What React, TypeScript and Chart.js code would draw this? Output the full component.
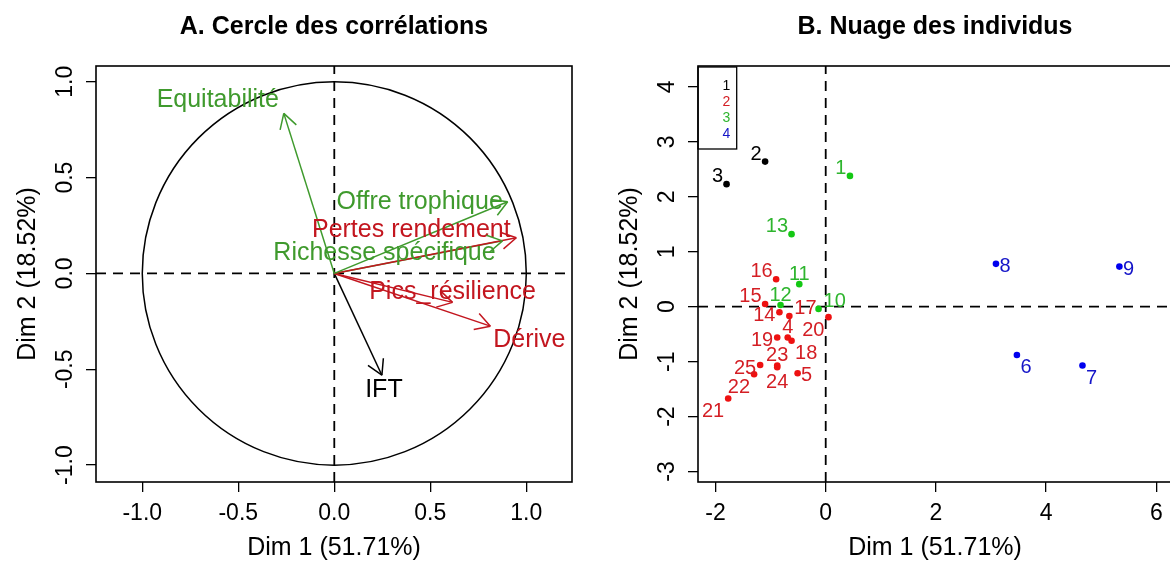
import React, { useEffect, useRef } from 'react';
import { Chart, registerables } from 'chart.js';
Chart.register(...registerables);

const FONT = "'Liberation Sans', Arial, Helvetica, sans-serif";

// ---------- Panel A : correlation circle ----------
const TITLE_A = 'A. Cercle des corrélations';
const VAR_NAMES = ['Equitabilité', 'Offre trophique', 'Pertes rendement', 'Richesse spécifique', 'Pics_résilience', 'Dérive', 'IFT'];
const VAR_DIM1 = [-0.263, 0.903, 0.948, 0.876, 0.616, 0.813, 0.248];
const VAR_DIM2 = [0.835, 0.374, 0.186, 0.170, -0.151, -0.275, -0.531];
const A_X_TICKS = [-1, -0.5, 0, 0.5, 1];
const A_Y_TICKS = [-1, -0.5, 0, 0.5, 1];

// ---------- Panel B : individuals ----------
const TITLE_B = 'B. Nuage des individus';
const IND_NAMES = ['1', '2', '3', '4', '5', '6', '7', '8', '9', '10', '11', '12', '13', '14', '15', '16', '17', '18', '19', '20', '21', '22', '23', '24', '25'];
const IND_DIM1 = [0.44, -1.10, -1.80, -0.69, -0.51, 3.47, 4.66, 3.09, 5.33, -0.13, -0.48, -0.82, -0.62, -0.84, -1.10, -0.90, -0.66, -0.62, -0.88, 0.05, -1.77, -1.30, -0.88, -0.88, -1.19];
const IND_DIM2 = [2.38, 2.64, 2.23, -0.56, -1.21, -0.88, -1.07, 0.78, 0.73, -0.04, 0.41, 0.03, 1.32, -0.10, 0.05, 0.50, -0.17, -0.62, -0.56, -0.19, -1.67, -1.23, -1.07, -1.10, -1.06];
const IND_CLUSTER = [3, 1, 1, 2, 2, 4, 4, 4, 4, 3, 3, 3, 3, 2, 2, 2, 2, 2, 2, 2, 2, 2, 2, 2, 2];
const CLUSTER_NAMES = ['1', '2', '3', '4'];
const B_X_TICKS = [-2, 0, 2, 4, 6];
const B_Y_TICKS = [-3, -2, -1, 0, 1, 2, 3, 4];

const AXIS_X_TITLE = 'Dim 1 (51.71%)';
const AXIS_Y_TITLE = 'Dim 2 (18.52%)';

// ---------- styles ----------
const GREEN_A = '#3f9a2d';
const RED_A = '#c3161f';
const VAR_COLORS = [GREEN_A, GREEN_A, RED_A, GREEN_A, RED_A, RED_A, '#000000'];
const VAR_LABEL_OFFSETS = [[-66, -15], [-88, -2], [-105, -10], [-118, 10], [0, -12], [39, 12], [2, 12.5]];
const CLUSTER_POINT_COLORS = ['#000000', '#ee1111', '#14c814', '#0000ee'];
const CLUSTER_TEXT_COLORS = ['#000000', '#d41e24', '#2eb52e', '#1414c8'];
const IND_LABEL_POS = ['ul', 'ul', 'ul', 'u', 'r', 'lr', 'lr', 'r', 'r', 'ur', 'u', 'u', 'ul', 'l', 'ul', 'ul', 'ur', 'lr', 'l', 'll', 'll', 'll', 'u', 'd', 'l'];

function scaleOpts(axis: 'x' | 'y', min: number, max: number, tickVals: number[], fmt: (v: number) => string, fitSize: number, titlePad: number) {
  return {
    type: 'linear',
    position: axis === 'x' ? 'bottom' : 'left',
    min,
    max,
    afterBuildTicks: (s: any) => { s.ticks = tickVals.map((v) => ({ value: v })); },
    afterFit: (s: any) => { if (axis === 'x') s.height = fitSize; else s.width = fitSize; },
    grid: { display: true, drawOnChartArea: false, drawTicks: true, tickLength: 10, color: '#000', lineWidth: 1.3 },
    border: { display: false },
    ticks: {
      display: axis === 'x',
      color: '#000',
      font: { family: FONT, size: 23 },
      padding: 8,
      maxRotation: 0,
      minRotation: 0,
      autoSkip: false,
      callback: (v: any) => fmt(Number(v)),
    },
    title: {
      display: true,
      text: axis === 'x' ? AXIS_X_TITLE : AXIS_Y_TITLE,
      color: '#000',
      font: { family: FONT, size: 25, lineHeight: 1.2 },
      padding: axis === 'x' ? { top: 0, bottom: 0 } : { top: titlePad, bottom: 0 },
    },
  };
}

function drawFrame(chart: any) {
  const { ctx, chartArea: a } = chart;
  ctx.save();
  ctx.strokeStyle = '#000';
  ctx.lineWidth = 1.6;
  ctx.strokeRect(a.left, a.top, a.right - a.left, a.bottom - a.top);
  ctx.restore();
}

function drawYTickLabels(chart: any) {
  const { ctx, chartArea: a } = chart;
  const ys = chart.scales.y;
  ctx.save();
  ctx.font = `23px ${FONT}`;
  ctx.fillStyle = '#000';
  ctx.textAlign = 'center';
  ctx.textBaseline = 'middle';
  ys.ticks.forEach((t: any) => {
    const py = ys.getPixelForValue(t.value);
    ctx.save();
    ctx.translate(a.left - 30, py);
    ctx.rotate(-Math.PI / 2);
    ctx.fillText(String(t.label), 0, 0);
    ctx.restore();
  });
  ctx.restore();
}

function drawZeroLines(chart: any) {
  const { ctx, chartArea: a } = chart;
  const x0 = chart.scales.x.getPixelForValue(0);
  const y0 = chart.scales.y.getPixelForValue(0);
  ctx.save();
  ctx.strokeStyle = '#000';
  ctx.lineWidth = 1.8;
  ctx.setLineDash([10, 7]);
  ctx.beginPath();
  ctx.moveTo(a.left, y0);
  ctx.lineTo(a.right, y0);
  ctx.moveTo(x0, a.bottom);
  ctx.lineTo(x0, a.top);
  ctx.stroke();
  ctx.restore();
}

const circlePlugin = {
  id: 'circleA',
  beforeDatasetsDraw(chart: any) {
    const { ctx } = chart;
    const xs = chart.scales.x;
    const ys = chart.scales.y;
    const cx = xs.getPixelForValue(0);
    const cy = ys.getPixelForValue(0);
    const rx = xs.getPixelForValue(1) - cx;
    const ry = cy - ys.getPixelForValue(1);
    ctx.save();
    ctx.strokeStyle = '#000';
    ctx.lineWidth = 1.5;
    ctx.beginPath();
    ctx.ellipse(cx, cy, rx, ry, 0, 0, Math.PI * 2);
    ctx.stroke();
    ctx.restore();
    drawZeroLines(chart);
  },
  afterDatasetsDraw(chart: any) {
    const { ctx } = chart;
    ctx.save();
    chart.data.datasets.forEach((ds: any, i: number) => {
      const meta = chart.getDatasetMeta(i);
      const o = meta.data[0];
      const t = meta.data[1];
      const ang = Math.atan2(t.y - o.y, t.x - o.x);
      const L = 17;
      ctx.strokeStyle = VAR_COLORS[i];
      ctx.lineWidth = 1.5;
      ctx.beginPath();
      [-1, 1].forEach((s) => {
        const aa = ang + Math.PI + (s * Math.PI) / 6;
        ctx.moveTo(t.x, t.y);
        ctx.lineTo(t.x + L * Math.cos(aa), t.y + L * Math.sin(aa));
      });
      ctx.stroke();
      const fs = 25;
      ctx.font = `${fs}px ${FONT}`;
      ctx.fillStyle = VAR_COLORS[i];
      ctx.textAlign = 'center';
      ctx.textBaseline = 'alphabetic';
      const [dx, dy] = VAR_LABEL_OFFSETS[i];
      ctx.fillText(VAR_NAMES[i], t.x + dx, t.y + dy + 0.358 * fs);
    });
    ctx.restore();
    drawFrame(chart);
  },
  afterDraw(chart: any) {
    drawYTickLabels(chart);
  },
};

function placeLabel(ctx: CanvasRenderingContext2D, text: string, px: number, py: number, pos: string, fs: number) {
  const h = 0.716 * fs;
  let align: CanvasTextAlign = 'center';
  let x = px;
  let cy = py;
  switch (pos) {
    case 'ul': align = 'right'; x = px - 3.5; cy = py - 2 - h / 2; break;
    case 'u': x = px; cy = py - 4 - h / 2; break;
    case 'ur': align = 'left'; x = px + 5; cy = py - 2 - h / 2; break;
    case 'r': align = 'left'; x = px + 3.5; cy = py + 1; break;
    case 'l': align = 'right'; x = px - 4; cy = py + 1.5; break;
    case 'lr': align = 'left'; x = px + 3.5; cy = py + 4 + h / 2; break;
    case 'll': align = 'right'; x = px - 4; cy = py + 4.5 + h / 2; break;
    case 'd': x = px; cy = py + 7 + h / 2; break;
  }
  ctx.textAlign = align;
  ctx.textBaseline = 'alphabetic';
  ctx.fillText(text, x, cy + h / 2);
}

const indPlugin = {
  id: 'indB',
  beforeDatasetsDraw(chart: any) {
    drawZeroLines(chart);
  },
  afterDatasetsDraw(chart: any) {
    const { ctx, chartArea: a } = chart;
    ctx.save();
    const fs = 20;
    ctx.font = `${fs}px ${FONT}`;
    chart.data.datasets.forEach((ds: any, c: number) => {
      const meta = chart.getDatasetMeta(c);
      ctx.fillStyle = CLUSTER_TEXT_COLORS[c];
      ds.data.forEach((d: any, j: number) => {
        const el = meta.data[j];
        placeLabel(ctx, IND_NAMES[d.i], el.x, el.y, IND_LABEL_POS[d.i], fs);
      });
    });
    // legend box
    ctx.strokeStyle = '#000';
    ctx.lineWidth = 1.3;
    ctx.strokeRect(a.left, a.top + 1, 38.7, 82);
    ctx.font = `14px ${FONT}`;
    ctx.textAlign = 'center';
    ctx.textBaseline = 'alphabetic';
    CLUSTER_NAMES.forEach((n, k) => {
      ctx.fillStyle = CLUSTER_TEXT_COLORS[k];
      ctx.fillText(n, a.left + 28.5, a.top + 19 + k * 16.1 + 5);
    });
    ctx.restore();
    drawFrame(chart);
  },
  afterDraw(chart: any) {
    drawYTickLabels(chart);
  },
};

export default function App() {
  const refA = useRef<HTMLCanvasElement>(null);
  const refB = useRef<HTMLCanvasElement>(null);

  useEffect(() => {
    const common = {
      animation: false,
      responsive: false,
      events: [],
    };
    const titleOpts = (text: string) => ({
      display: true,
      text,
      fullSize: false,
      color: '#000',
      font: { family: FONT, size: 25, weight: 'bold', lineHeight: 1.2 },
      padding: { top: 12, bottom: 24 },
    });

    const chartA = new Chart(refA.current as HTMLCanvasElement, {
      type: 'scatter',
      data: {
        datasets: VAR_NAMES.map((n, i) => ({
          label: n,
          data: [{ x: 0, y: 0 }, { x: VAR_DIM1[i], y: VAR_DIM2[i] }],
          showLine: true,
          borderColor: VAR_COLORS[i],
          borderWidth: 1.5,
          pointRadius: 0,
          fill: false,
        })),
      },
      options: {
        ...common,
        layout: { padding: { left: 0, right: 13, top: 0, bottom: 0 } },
        scales: {
          x: scaleOpts('x', -1.241, 1.238, A_X_TICKS, (v) => v.toFixed(1), 81, 0),
          y: scaleOpts('y', -1.088, 1.082, A_Y_TICKS, (v) => v.toFixed(1), 96, 13),
        },
        plugins: {
          legend: { display: false },
          tooltip: { enabled: false },
          title: titleOpts(TITLE_A),
        },
      } as any,
      plugins: [circlePlugin],
    } as any);

    const chartB = new Chart(refB.current as HTMLCanvasElement, {
      type: 'scatter',
      data: {
        datasets: CLUSTER_NAMES.map((name, c) => ({
          label: name,
          data: IND_NAMES.map((n, i) => ({ x: IND_DIM1[i], y: IND_DIM2[i], i }))
            .filter((d) => IND_CLUSTER[d.i] === c + 1),
          pointRadius: 3.3,
          pointBackgroundColor: CLUSTER_POINT_COLORS[c],
          pointBorderWidth: 0,
          showLine: false,
        })),
      },
      options: {
        ...common,
        layout: { padding: { left: 0, right: 13, top: 0, bottom: 0 } },
        scales: {
          x: scaleOpts('x', -2.318, 6.285, B_X_TICKS, (v) => String(v), 81, 0),
          y: scaleOpts('y', -3.19, 4.38, B_Y_TICKS, (v) => String(v), 113, 30),
        },
        plugins: {
          legend: { display: false },
          tooltip: { enabled: false },
          title: titleOpts(TITLE_B),
        },
      } as any,
      plugins: [indPlugin],
    } as any);

    return () => {
      chartA.destroy();
      chartB.destroy();
    };
  }, []);

  return (
    <div style={{ position: 'absolute', left: 0, top: 0, width: 1170, height: 563, overflow: 'hidden', background: '#fff' }}>
      <canvas ref={refA} width={585} height={563} style={{ position: 'absolute', left: 0, top: 0 }} />
      <canvas ref={refB} width={600} height={563} style={{ position: 'absolute', left: 585, top: 0 }} />
    </div>
  );
}
